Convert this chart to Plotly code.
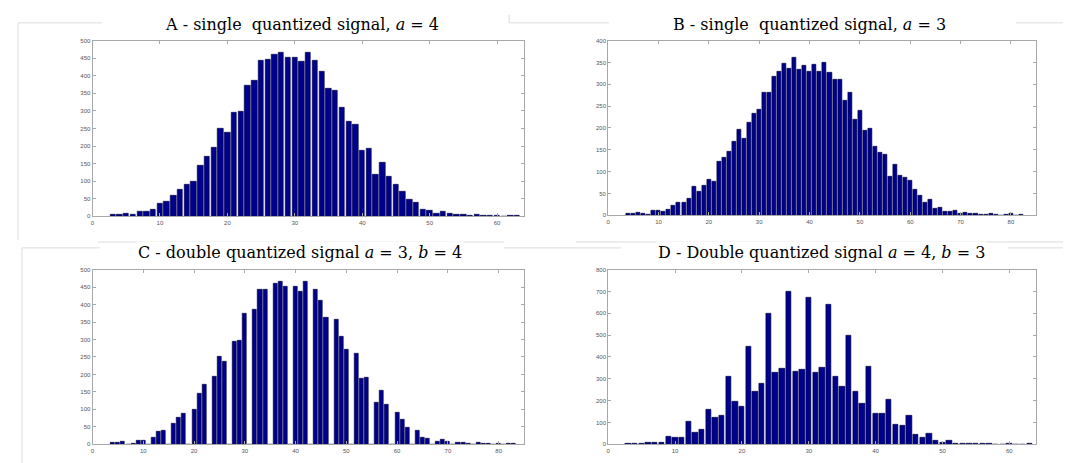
import plotly.graph_objects as go

# ---------------- data ----------------
a_x = list(range(3, 64))
a_counts = [5, 5, 8, 4, 14, 13, 20, 35, 42, 60, 76, 90, 98, 143, 170, 195, 250, 237,
            295, 298, 373, 385, 443, 445, 460, 465, 452, 452, 440, 465, 442, 412, 362,
            357, 310, 270, 260, 188, 192, 120, 153, 113, 91, 70, 48, 38, 20, 17, 9, 13,
            8, 4, 6, 2, 4, 1, 1, 3, 0, 1, 1]

b_x = list(range(4, 83))
b_counts = [3, 4, 6, 5, 1, 10, 10, 9, 14, 22, 30, 30, 38, 65, 55, 68, 82, 77, 122, 132,
            145, 168, 196, 175, 213, 233, 242, 280, 280, 317, 328, 347, 337, 360, 333,
            343, 330, 345, 328, 350, 327, 310, 310, 262, 280, 220, 240, 193, 198, 158,
            143, 140, 88, 117, 92, 87, 80, 60, 45, 30, 35, 15, 17, 9, 8, 10, 5, 6, 3, 3,
            2, 2, 3, 2, 0, 1, 5, 0, 1]

c_x = list(range(4, 84))
c_counts = [4, 5, 8, 0, 3, 12, 12, 0, 20, 35, 40, 0, 58, 77, 88, 0, 98, 145, 170, 0,
            195, 250, 238, 0, 295, 297, 373, 0, 385, 442, 443, 0, 460, 465, 452, 0,
            452, 437, 465, 0, 442, 410, 362, 0, 357, 308, 270, 0, 260, 188, 192, 0,
            120, 153, 113, 0, 90, 70, 48, 0, 38, 20, 17, 0, 9, 13, 8, 0, 4, 6, 2, 0,
            4, 1, 1, 0, 3, 0, 1, 1]

d_x = list(range(3, 64))
d_counts = [3, 3, 3, 8, 8, 6, 35, 30, 30, 103, 55, 68, 158, 122, 130, 312, 195, 172,
            447, 242, 278, 598, 328, 347, 697, 335, 343, 673, 328, 352, 640, 310, 262,
            500, 240, 188, 358, 142, 140, 205, 90, 85, 133, 45, 30, 48, 17, 10, 18, 5,
            5, 5, 2, 2, 4, 0, 0, 2, 0, 0, 2]

titles = ["A - single  quantized signal, <i>a</i> = 4",
          "B - single  quantized signal, <i>a</i> = 3",
          "C - double quantized signal <i>a</i> = 3, <i>b</i> = 4",
          "D - Double quantized signal <i>a</i> = 4, <i>b</i> = 3"]

# ---------------- figure ----------------
W, H = 1071, 463
BAR = "#00008F"
FRAME = "#dcdcdc"

fig = go.Figure()

# light frame lines of the composite picture (drawn behind everything)
frame_lines = [
    (8, 12, 92, 12), (8, 12, 8, 232), (500, 4, 500, 12), (500, 12, 600, 12),
    (1008, 12, 1071, 12), (88, 234, 495, 234), (567, 234, 1071, 234),
    (12, 240, 90, 240), (495, 240, 612, 240), (1000, 240, 1071, 240),
    (12, 240, 12, 460),
]
for x0, y0, x1, y1 in frame_lines:
    fig.add_shape(type="line", xref="paper", yref="paper",
                  x0=x0 / W, y0=1 - y0 / H, x1=x1 / W, y1=1 - y1 / H,
                  line=dict(color=FRAME, width=1), layer="below")

panels = [
    # x, y, xdomain(px), ydomain(px top,bottom), xrange, yrange, ydtick, title pos
    (a_x, a_counts, (82.7, 515), (30, 208), [0, 64], [0, 500], 50, (293, 14)),
    (b_x, b_counts, (599.3, 1028), (30, 207), [0, 85], [0, 400], 50, (801, 14)),
    (c_x, c_counts, (82.7, 515), (262, 439), [0, 85], [0, 500], 50, (291, 245)),
    (d_x, d_counts, (599.3, 1028), (262, 439), [0, 64], [0, 800], 100, (813, 245)),
]

for i, (xs, ys, xd, yd, xr, yr, ydt, tpos) in enumerate(panels):
    n = "" if i == 0 else str(i + 1)
    fig.add_trace(go.Bar(
        x=xs, y=ys, width=0.8,
        marker=dict(color=BAR, line=dict(color="#000030", width=0.6)),
        xaxis="x" + n, yaxis="y" + n, showlegend=False,
    ))
    common = dict(showline=True, linecolor="#a8a8a8", linewidth=1, mirror="ticks",
                  ticks="inside", ticklen=3, tickcolor="#a8a8a8", showgrid=False,
                  zeroline=False, tickfont=dict(family="Liberation Sans", size=6, color="#555555"))
    fig.layout["xaxis" + n] = dict(domain=[xd[0] / W, xd[1] / W], range=xr, dtick=10,
                                   anchor="y" + n, **common)
    fig.layout["yaxis" + n] = dict(domain=[1 - yd[1] / H, 1 - yd[0] / H], range=yr, dtick=ydt,
                                   anchor="x" + n, **common)
    fig.add_annotation(text=titles[i], x=tpos[0] / W, y=1 - tpos[1] / H, xref="paper", yref="paper",
                       showarrow=False, xanchor="center", yanchor="middle",
                       bgcolor="white",
                       font=dict(family="DejaVu Serif", size=16, color="#000000"))

fig.update_layout(width=W, height=H, margin=dict(l=0, r=0, t=0, b=0),
                  paper_bgcolor="white", plot_bgcolor="white", bargap=0)

fig.write_html("out.html")
